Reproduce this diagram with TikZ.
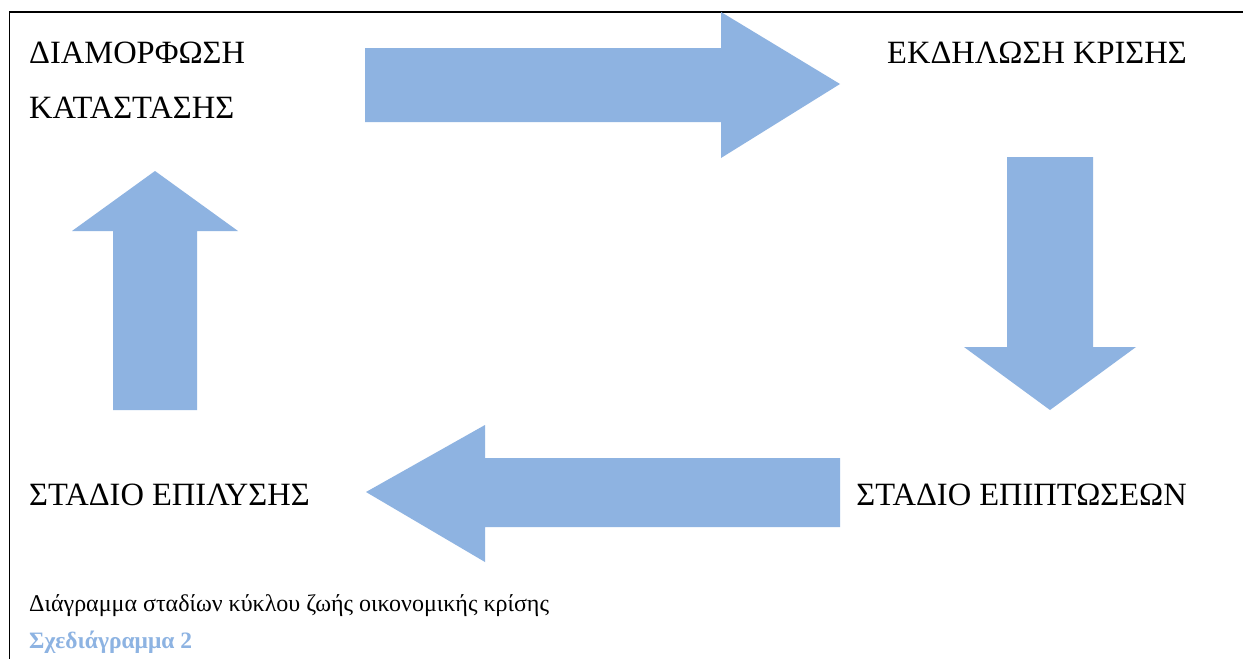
\documentclass[tikz,border=0pt]{standalone}
\usepackage{fontspec}
\setmainfont{Liberation Serif}
\usepackage{xcolor}
\definecolor{arrowblue}{RGB}{142,179,225}
\definecolor{captionblue}{RGB}{141,179,226}
\usetikzlibrary{positioning}

\begin{document}
\begin{tikzpicture}[x=1pt,y=-1pt]
    \useasboundingbox (0,0) rectangle (1243,659);
    \fill[white] (0,0) rectangle (1243,659);
    % frame, only left and top
    \draw[line width=1.3pt] (9.5,659) -- (9.5,12) -- (1243,12);

    % block arrows
    \fill[arrowblue] (365,48) -- (721,48) -- (721,12) -- (840,84) -- (721,158) -- (721,122) -- (365,122) -- cycle;
    \fill[arrowblue] (1007,157) -- (1093,157) -- (1093,347) -- (1136,347) -- (1050,410) -- (964,347) -- (1007,347) -- cycle;
    \fill[arrowblue] (840,458) -- (485,458) -- (485,425) -- (366,492) -- (485,562) -- (485,527) -- (840,527) -- cycle;
    \fill[arrowblue] (113,410) -- (113,231) -- (72,231) -- (155,171) -- (238,231) -- (197,231) -- (197,410) -- cycle;

    % stage labels
    \node (diamorfosi) [anchor=north west, inner sep=0pt, align=left,
    font=\fontsize{32.5}{55}\selectfont] at (29,42) {ΔΙΑΜΟΡΦΩΣΗ\\ΚΑΤΑΣΤΑΣΗΣ};
    \node (ekdilosi) [anchor=base east, inner sep=0pt,
    font=\fontsize{32.5}{37}\selectfont] at (1187,63) {ΕΚΔΗΛΩΣΗ ΚΡΙΣΗΣ};
    \node (epiptoseis) [anchor=base east, inner sep=0pt,
    font=\fontsize{32.5}{37}\selectfont] at (1187,505) {ΣΤΑΔΙΟ ΕΠΙΠΤΩΣΕΩΝ};
    \node (epilysi) [anchor=base west, inner sep=0pt,
    font=\fontsize{32.5}{37}\selectfont] at (29,505) {ΣΤΑΔΙΟ ΕΠΙΛΥΣΗΣ};

    % caption
    \node (perigrafi) [anchor=base west, inner sep=0pt,
    font=\fontsize{24}{28}\selectfont] at (29,611) {Διάγραμμα σταδίων κύκλου ζωής οικονομικής κρίσης};
    \node (titlos) [anchor=base west, inner sep=0pt, text=captionblue,
    font=\fontsize{23.5}{28}\selectfont\bfseries] at (29,648) {Σχεδιάγραμμα 2};
\end{tikzpicture}
\end{document}
